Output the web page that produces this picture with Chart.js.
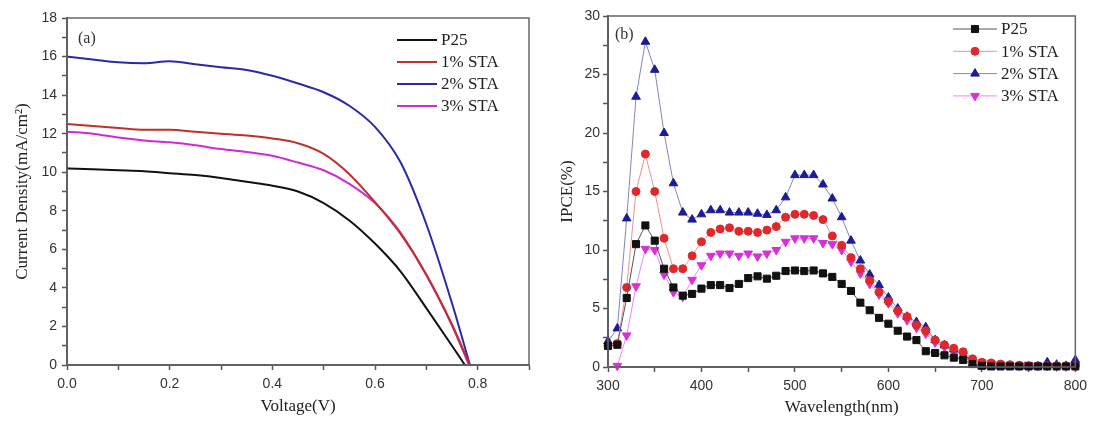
<!DOCTYPE html>
<html>
<head>
<meta charset="utf-8">
<script src="https://cdn.jsdelivr.net/npm/chart.js@4.4.1/dist/chart.umd.min.js"></script>
<style>
  body { margin: 0; background: #fff; }
  #wrap { position: relative; width: 1093px; height: 424px; }
  #wrap canvas { position: absolute; top: 0; }
  #grafico-a { left: 0; }
  #grafico-b { left: 540px; }
</style>
</head>
<body>
<div id="wrap">
  <canvas id="grafico-a" width="540" height="424"></canvas>
  <canvas id="grafico-b" width="553" height="424"></canvas>
</div>
<script>
// (a) curvas J-V
const rotulos = ["P25", "1% STA", "2% STA", "3% STA"];
const voltagens = [0, 0.05, 0.1, 0.15, 0.2, 0.25, 0.3, 0.35, 0.4, 0.45, 0.5, 0.55, 0.6, 0.65, 0.7, 0.75];
const jP25 = [10.2, 10.15, 10.1, 10.05, 9.95, 9.85, 9.7, 9.5, 9.3, 9.0, 8.4, 7.5, 6.3, 4.85, 2.95, 1.0];
const jSta1 = [12.5, 12.4, 12.3, 12.2, 12.2, 12.1, 12.0, 11.9, 11.75, 11.5, 10.95, 9.9, 8.45, 6.8, 4.7, 2.1];
const jSta2 = [16.0, 15.85, 15.7, 15.65, 15.75, 15.6, 15.45, 15.3, 15.0, 14.6, 14.15, 13.45, 12.35, 10.5, 7.3, 3.2];
const jSta3 = [12.1, 12.0, 11.8, 11.65, 11.55, 11.4, 11.2, 11.05, 10.85, 10.5, 10.1, 9.4, 8.4, 6.85, 4.65, 2.05];
const voc = [0.775, 0.785, 0.785, 0.783];

// (b) IPCE
const comprimentos = [];
for (let w = 300; w <= 800; w += 10) comprimentos.push(w);
const ipceP25 = [1.8, 1.9, 5.9, 10.5, 12.1, 10.8, 8.4, 6.8, 6.1, 6.25,
  6.7, 7.0, 7.0, 6.75, 7.1, 7.6, 7.75, 7.55, 7.8, 8.2,
  8.25, 8.2, 8.25, 8.0, 7.7, 7.1, 6.5, 5.5, 4.85, 4.2,
  3.7, 3.1, 2.6, 2.3, 1.35, 1.2, 1.0, 0.8, 0.6, 0.25,
  0.1, 0.05, 0.05, 0.05, 0.05, 0.05, 0.05, 0.05, 0.05, 0.05, 0.05];
const ipceSta1 = [1.8, 2.0, 6.8, 15.0, 18.2, 15.0, 11.0, 8.4, 8.4, 9.5,
  10.7, 11.5, 11.8, 11.9, 11.6, 11.6, 11.5, 11.7, 12.0, 12.8,
  13.05, 13.05, 12.95, 12.6, 11.2, 10.4, 9.35, 8.4, 7.4, 6.4,
  5.6, 4.8, 4.3, 3.6, 3.1, 2.3, 1.9, 1.6, 1.3, 0.7,
  0.4, 0.35, 0.25, 0.2, 0.15, 0.1, 0.1, 0.1, 0.1, 0.1, 0.1];
const ipceSta2 = [2.2, 3.3, 12.7, 23.1, 27.8, 25.4, 20.0, 15.7, 13.2, 12.6,
  13.05, 13.4, 13.4, 13.2, 13.2, 13.2, 13.1, 13.0, 13.4, 14.5,
  16.4, 16.4, 16.4, 15.6, 14.4, 12.8, 10.8, 9.1, 7.9, 7.0,
  5.95, 5.0, 4.3, 3.85, 3.4, 2.3, 1.85, 1.5, 1.0, 0.3,
  0.1, 0.1, 0.1, 0.05, 0.05, 0.05, 0.05, 0.4, 0.2, 0.1, 0.6];
const ipceSta3 = [null, 0.1, 2.7, 6.9, 10.1, 10.0, 7.9, 6.4, 6.0, 7.45,
  8.7, 9.5, 9.7, 9.7, 9.5, 9.7, 9.45, 9.7, 10.0, 10.7,
  11.0, 11.0, 11.0, 10.6, 10.5, 10.0, 9.0, 8.0, 7.1, 6.2,
  5.45, 4.6, 4.0, 3.35, 2.85, 2.1, 1.7, 1.3, 1.0, 0.6,
  0.4, 0.3, 0.2, 0.15, 0.1, 0.2, 0.1, 0.1, 0.05, 0.05, 0.05];

const fonteSerif = "'Liberation Serif', 'Times New Roman', serif";
const fonteSans = "'Liberation Sans', Arial, sans-serif";

// monta pares {x, y}
function pontosJV(j, vFinal) {
  const pts = voltagens.map((v, i) => ({ x: v, y: j[i] }));
  pts.push({ x: vFinal, y: 0 });
  return pts;
}
function pontosIpce(vals) {
  return comprimentos.map((w, i) => ({ x: w, y: vals[i] }));
}

// moldura, legenda e rótulo do painel
const moldura = {
  id: 'moldura',
  afterDatasetsDraw(chart, args, opts) {
    const { ctx, chartArea: a } = chart;
    ctx.save();
    ctx.strokeStyle = '#666';
    ctx.lineWidth = 1.5;
    ctx.strokeRect(a.left, a.top, a.right - a.left, a.bottom - a.top);

    ctx.fillStyle = '#333';
    ctx.font = '16px ' + fonteSerif;
    ctx.textBaseline = 'middle';
    ctx.textAlign = 'left';
    ctx.fillText(opts.painel, opts.painelX, opts.painelY);

    const L = opts.legenda;
    chart.data.datasets.forEach((ds, i) => {
      const y = L.y + i * L.passo;
      ctx.strokeStyle = ds.borderColor;
      ctx.lineWidth = ds.borderWidth;
      ctx.beginPath();
      ctx.moveTo(L.x, y);
      ctx.lineTo(L.x + L.largura, y);
      ctx.stroke();
      if (ds.pointStyle) {
        ctx.fillStyle = ds.pointBackgroundColor;
        ctx.strokeStyle = ds.pointBorderColor;
        ctx.lineWidth = 1;
        Chart.helpers.drawPoint(ctx, {
          pointStyle: ds.pointStyle,
          radius: ds.pointRadius,
          rotation: ds.pointRotation || 0,
          borderWidth: 1
        }, L.x + L.largura / 2, y);
      }
      ctx.fillStyle = '#222';
      ctx.font = '17px ' + fonteSerif;
      ctx.fillText(ds.label, L.x + L.largura + 4, y + 1);
    });
    ctx.restore();
  }
};

function eixo(min, max, passo, maior, casas, titulo, opts) {
  return {
    type: 'linear',
    min: min,
    max: max,
    border: { display: true, color: '#555', width: 2 },
    grid: { drawOnChartArea: false, drawTicks: true, tickLength: 5, color: '#555', tickWidth: 1.5 },
    ticks: {
      stepSize: passo,
      autoSkip: false,
      maxRotation: 0,
      padding: opts.pad,
      color: '#333',
      font: { family: fonteSans, size: 14 },
      callback: (v) => {
        const r = Math.round(v / maior * 1000) / 1000;
        return Number.isInteger(r) ? v.toFixed(casas) : '';
      }
    },
    title: {
      display: true,
      text: titulo,
      color: '#222',
      font: { family: fonteSerif, size: 17 },
      padding: opts.tpad
    },
    afterFit: (s) => {
      if (s.isHorizontal()) s.height = opts.tam; else s.width = opts.tam;
    }
  };
}

// gráfico (a)
const coresA = ['#111111', '#c0302a', '#2a2aa8', '#d22ad0'];
const jsA = [jP25, jSta1, jSta2, jSta3];
new Chart(document.querySelector('#grafico-a'), {
  type: 'line',
  data: {
    datasets: rotulos.map((r, i) => ({
      label: r,
      data: pontosJV(jsA[i], voc[i]),
      borderColor: coresA[i],
      borderWidth: 2,
      pointRadius: 0,
      cubicInterpolationMode: 'monotone'
    }))
  },
  options: {
    responsive: false,
    animation: false,
    layout: { padding: { top: 18, right: 11, left: 0, bottom: 0 } },
    scales: {
      x: eixo(0, 0.9, 0.1, 0.2, 1, 'Voltage(V)', { pad: 6, tpad: { top: 0, bottom: 7 }, tam: 59 }),
      y: eixo(0, 18, 1, 2, 0, 'Current Density(mA/cm²)', { pad: 5, tpad: { top: 12, bottom: 0 }, tam: 67 })
    },
    plugins: {
      legend: { display: false },
      tooltip: { enabled: false },
      moldura: {
        painel: '(a)', painelX: 78, painelY: 39,
        legenda: { x: 397, y: 40, passo: 22, largura: 40 }
      }
    }
  },
  plugins: [moldura]
});

// gráfico (b)
const linhasB = ['#555555', '#f09090', '#8484c8', '#ee88ee'];
const marcasB = ['#111111', '#e0282a', '#1c1c96', '#d830d8'];
const estilosB = ['rect', 'circle', 'triangle', 'triangle'];
const raiosB = [5, 4, 5, 5];
const rotacoesB = [0, 0, 0, 180];
const ipces = [ipceP25, ipceSta1, ipceSta2, ipceSta3];
new Chart(document.querySelector('#grafico-b'), {
  type: 'line',
  data: {
    datasets: rotulos.map((r, i) => ({
      label: r,
      data: pontosIpce(ipces[i]),
      borderColor: linhasB[i],
      borderWidth: 1,
      pointStyle: estilosB[i],
      pointRadius: raiosB[i],
      pointRotation: rotacoesB[i],
      pointBackgroundColor: marcasB[i],
      pointBorderColor: marcasB[i],
      pointBorderWidth: 1,
      tension: 0,
      clip: 6
    }))
  },
  options: {
    responsive: false,
    animation: false,
    layout: { padding: { top: 16, right: 14, left: 0, bottom: 0 } },
    scales: {
      x: eixo(300, 800, 50, 100, 0, 'Wavelength(nm)', { pad: 6, tpad: { top: 0, bottom: 6 }, tam: 57 }),
      y: eixo(0, 30, 2.5, 5, 0, 'IPCE(%)', { pad: 3, tpad: { top: 17, bottom: 0 }, tam: 68 })
    },
    plugins: {
      legend: { display: false },
      tooltip: { enabled: false },
      moldura: {
        painel: '(b)', painelX: 75, painelY: 35,
        legenda: { x: 413, y: 29, passo: 22.3, largura: 44 }
      }
    }
  },
  plugins: [moldura]
});
</script>
</body>
</html>
